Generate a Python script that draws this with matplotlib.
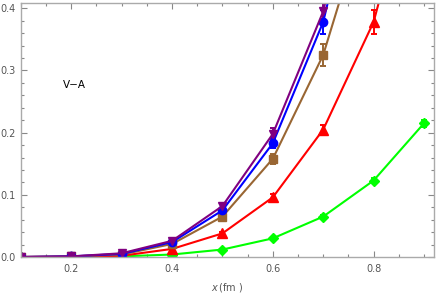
import matplotlib.pyplot as plt
from matplotlib.ticker import MultipleLocator

# distances in fm
x = [0.1, 0.2, 0.3, 0.4, 0.5, 0.6, 0.7, 0.8, 0.9]

# V-A correlator, one list per series
green_y = [0.0, 0.0, 0.001, 0.004, 0.012, 0.030, 0.065, 0.123, 0.215]
green_err = [0.0, 0.0, 0.0, 0.0005, 0.001, 0.002, 0.003, 0.004, 0.006]
red_y = [0.0, 0.0005, 0.002, 0.013, 0.038, 0.096, 0.205, 0.378, 0.68]
red_err = [0.0, 0.0, 0.0005, 0.001, 0.003, 0.005, 0.008, 0.02, 0.04]
brown_y = [0.0, 0.001, 0.004, 0.021, 0.065, 0.158, 0.325, 0.59]
brown_err = [0.0, 0.0, 0.001, 0.002, 0.004, 0.008, 0.018, 0.04]
blue_y = [0.0, 0.001, 0.005, 0.024, 0.075, 0.183, 0.378, 0.72]
blue_err = [0.0, 0.0, 0.001, 0.002, 0.004, 0.008, 0.02, 0.04]
purple_y = [0.0, 0.001, 0.006, 0.026, 0.082, 0.198, 0.395, 0.75]
purple_err = [0.0, 0.0, 0.001, 0.002, 0.005, 0.01, 0.013, 0.04]

series = [
    (green_y, green_err, (0, 1, 0), 'D', 5.5),
    (red_y, red_err, (1, 0, 0), '^', 6.5),
    (brown_y, brown_err, (0.6, 0.4, 0.2), 's', 5.5),
    (blue_y, blue_err, (0, 0, 1), 'o', 6),
    (purple_y, purple_err, (0.5, 0, 0.5), 'v', 6),
]

fig = plt.figure(figsize=(4.36, 3.02), dpi=100)
ax = fig.add_axes([0.048, 0.149, 0.9475, 0.841])

for ys, errs, col, mk, ms in series:
    xs = x[:len(ys)]
    ax.errorbar(xs, ys, yerr=errs, color=col, marker=mk, markersize=ms,
                linewidth=1.5, elinewidth=1.4, capsize=2.5, capthick=1.4)

ax.set_xlim(0.1, 0.92)
ax.set_ylim(0, 0.4085)

gray = '#888888'
ax.xaxis.set_major_locator(MultipleLocator(0.2))
ax.xaxis.set_minor_locator(MultipleLocator(0.05))
ax.yaxis.set_major_locator(MultipleLocator(0.1))
ax.yaxis.set_minor_locator(MultipleLocator(0.02))
ax.tick_params(which='both', direction='in', top=True, right=True,
               color=gray, labelcolor='#555555', labelsize=7, width=0.8)
ax.tick_params(which='major', length=4, pad=5)
ax.tick_params(which='minor', length=2)
ax.tick_params(axis='y', pad=4)
for s in ax.spines.values():
    s.set_color('#aaaaaa')
    s.set_linewidth(1.0)

ax.text(0.206, 0.277, 'V\u2212A', fontsize=7.5, ha='center', va='center')
ax.set_xlabel(r'$x\,$(fm )', fontsize=7, color='#555555', labelpad=5)

fig.savefig('out.png', dpi=100)
